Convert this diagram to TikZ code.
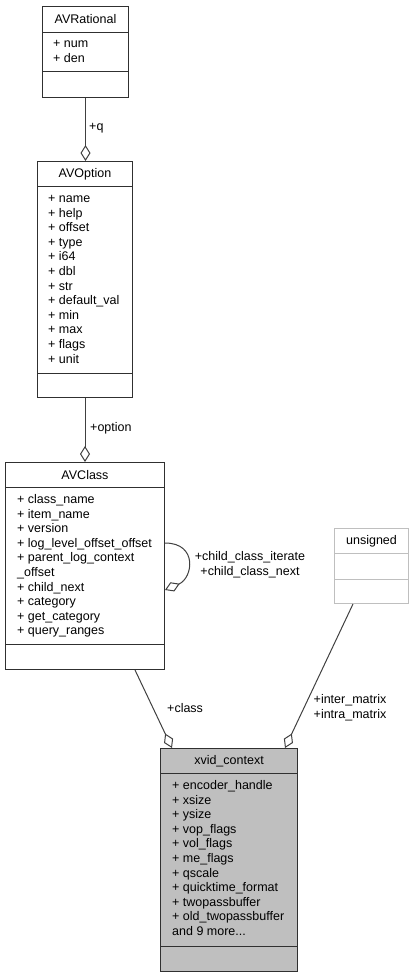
\documentclass[tikz,border=0pt]{standalone}
\usepackage{fontspec}
\setmainfont{Liberation Sans}
\usetikzlibrary{arrows.meta,calc}

\definecolor{edgegray}{HTML}{404040}
\definecolor{framegray}{HTML}{303030}
\definecolor{palegray}{HTML}{BFBFBF}

\tikzset{
  part/.style={draw=framegray, line width=1pt, rectangle, inner sep=0pt, anchor=north west},
  palepart/.style={part, draw=palegray},
  focuspart/.style={part, fill=palegray},
  boxtitle/.style={font=\fontsize{12.5}{14.6}\selectfont, inner sep=0pt, anchor=center},
  fields/.style={font=\fontsize{12.5}{14.6}\selectfont, align=left, inner sep=0pt, anchor=north west},
  link/.style={draw=edgegray, line width=1pt,
    -{Diamond[open, fill=white, length=16pt, width=10pt]}},
  role/.style={font=\fontsize{12.5}{15}\selectfont, inner sep=0pt, align=center},
}

\begin{document}
\begin{tikzpicture}[x=1pt, y=-1pt]
\useasboundingbox (0,0) rectangle (414,977);

% AVRational
\node[part, minimum width=86, minimum height=26] (avrT) at (42,6) {};
\node[part, minimum width=86, minimum height=39] (avrA) at (42,32) {};
\node[part, minimum width=86, minimum height=26] (avrM) at (42,71) {};
\node[boxtitle] (avrName) at (avrT.center) {AVRational};
\node[fields] (avrF) at (53,37) {\strut + num\\+ den};

% AVOption
\node[part, minimum width=95, minimum height=25] (avoT) at (37,161) {};
\node[part, minimum width=95, minimum height=187] (avoA) at (37,186) {};
\node[part, minimum width=95, minimum height=24] (avoM) at (37,373) {};
\node[boxtitle] (avoName) at (avoT.center) {AVOption};
\node[fields] (avoF) at (48,192) {\strut + name\\+ help\\+ offset\\+ type\\+ i64\\+ dbl\\+ str\\+ default\_val\\+ min\\+ max\\+ flags\\+ unit};

% AVClass
\node[part, minimum width=159, minimum height=25] (avcT) at (5,462) {};
\node[part, minimum width=159, minimum height=157] (avcA) at (5,487) {};
\node[part, minimum width=159, minimum height=25] (avcM) at (5,644) {};
\node[boxtitle] (avcName) at (avcT.center) {AVClass};
\node[fields] (avcF) at (17,493) {\strut + class\_name\\+ item\_name\\+ version\\+ log\_level\_offset\_offset\\+ parent\_log\_context\\\_offset\\+ child\_next\\+ category\\+ get\_category\\+ query\_ranges};

% unsigned
\node[palepart, minimum width=74, minimum height=25] (unsT) at (334,528) {};
\node[palepart, minimum width=74, minimum height=26] (unsA) at (334,553) {};
\node[palepart, minimum width=74, minimum height=24] (unsM) at (334,579) {};
\node[boxtitle] (unsName) at (unsT.center) {unsigned};

% xvid_context
\node[focuspart, minimum width=137, minimum height=25] (xvT) at (160,748) {};
\node[focuspart, minimum width=137, minimum height=173] (xvA) at (160,773) {};
\node[focuspart, minimum width=137, minimum height=25] (xvM) at (160,946) {};
\node[boxtitle] (xvName) at (xvT.center) {xvid\_context};
\node[fields] (xvF) at (172,779) {\strut + encoder\_handle\\+ xsize\\+ ysize\\+ vop\_flags\\+ vol\_flags\\+ me\_flags\\+ qscale\\+ quicktime\_format\\+ twopassbuffer\\+ old\_twopassbuffer\\and 9 more...};

% aggregations
\draw[link] (avrM.south) -- (avrM.south |- avoT.north);
\draw[link] (avoM.south) -- (avoM.south |- avcT.north);
\draw[link] ($(avcA.north east)+(0,56)$) .. controls +(33,0) and +(28,-12) .. ($(avcA.north east)+(0,103)$);
\draw[link] ($(avcM.south west)+(130,0)$) -- ($(xvT.north west)+(12,0)$);
\draw[link] ($(unsM.south west)+(19,0)$) -- ($(xvT.north west)+(125,0)$);

% role names
\node[role, anchor=west] (rq) at (89,128) {+q};
\node[role, anchor=west] (roption) at (90,428) {+option};
\node[role] (rchild) at (250,565) {+child\_class\_iterate\\+child\_class\_next};
\node[role, anchor=west] (rclass) at (167,708) {+class};
\node[role] (rmatrix) at (350,708) {+inter\_matrix\\+intra\_matrix};
\end{tikzpicture}
\end{document}
